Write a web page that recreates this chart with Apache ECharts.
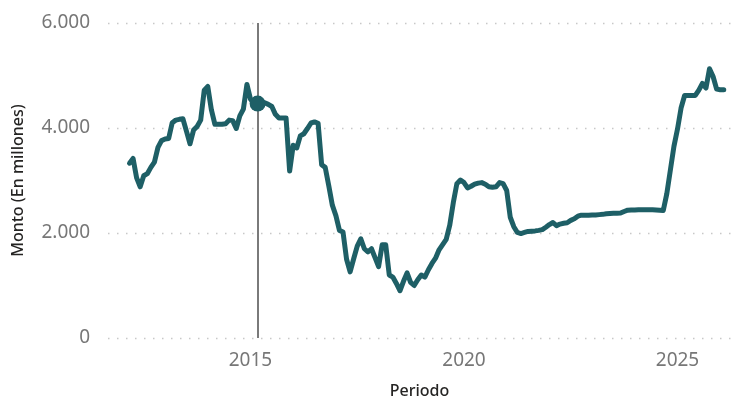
<!DOCTYPE html>
<html>
<head>
<meta charset="utf-8">
<script src="https://cdn.jsdelivr.net/npm/echarts@6/dist/echarts.min.js"></script>
<style>
html,body{margin:0;padding:0;background:#fff;}
#chart{width:733px;height:404px;}
</style>
</head>
<body>
<div id="chart"></div>
<script>
// First month of the series and monthly values (millones)
const startMonth = '2012-03';
const montos = [
  3330, 3420, 3050, 2880, 3090, 3130, 3250, 3350, 3630, 3760,           // 2012-03 .. 2012-12
  3790, 3800, 4100, 4150, 4165, 4175, 3940, 3700, 3960, 4030, 4150, 4720, // 2013
  4790, 4350, 4070, 4070, 4070, 4080, 4150, 4140, 3990, 4230, 4360, 4830, // 2014
  4550, 4470, 4465, 4480, 4480, 4450, 4410, 4260, 4190, 4190, 4190, 3180, // 2015
  3670, 3620, 3850, 3890, 3990, 4095, 4115, 4090, 3300, 3250, 2900, 2530, // 2016
  2330, 2050, 2020, 1500, 1260, 1510, 1750, 1890, 1700, 1640, 1700, 1530, // 2017
  1360, 1775, 1775, 1200, 1160, 1040, 900, 1080, 1240, 1060, 1000, 1110,  // 2018
  1200, 1160, 1300, 1420, 1520, 1680, 1780, 1880, 2150, 2580, 2940, 3010, // 2019
  2960, 2860, 2890, 2930, 2950, 2960, 2930, 2880, 2870, 2880, 2960, 2940, // 2020
  2810, 2300, 2120, 2010, 1990, 2010, 2030, 2035, 2040, 2050, 2065, 2110, // 2021
  2160, 2200, 2140, 2170, 2185, 2195, 2240, 2270, 2320, 2340, 2340, 2340, // 2022
  2345, 2345, 2350, 2355, 2365, 2370, 2375, 2378, 2380, 2410, 2435, 2440, // 2023
  2440, 2443, 2445, 2445, 2445, 2445, 2440, 2435, 2430, 2750, 3200, 3650, // 2024
  3980, 4380, 4620, 4620, 4620, 4620, 4720, 4850, 4760, 5130, 4980, 4740, // 2025
  4730, 4730                                                              // 2026
];
const markerMonth = '2015-03';
const xTickLabels = [2015, 2020, 2025];

function monthToYear(s){
  const p = s.split('-');
  return +p[0] + (+p[1] - 1) / 12;
}
const startYear = monthToYear(startMonth);
const seriesData = montos.map((v, i) => [startYear + i / 12, v]);
const markerX = monthToYear(markerMonth);
const markerIdx = Math.round((markerX - startYear) * 12);
const markerData = [[markerX, montos[markerIdx]]];

const fmt = v => String(v).replace(/\B(?=(\d{3})+(?!\d))/g, '.');
const FONT = "'Segoe UI', 'Noto Sans', sans-serif";
const lineColor = '#1e5f66';

const chart = echarts.init(document.getElementById('chart'), null, {renderer: 'canvas'});
chart.setOption({
  animation: false,
  backgroundColor: '#ffffff',
  grid: {left: 108, right: 2, top: 23, bottom: 61, containLabel: false},
  xAxis: {
    type: 'value',
    min: 2011.663,
    max: 2026.253,
    name: 'Periodo',
    nameLocation: 'middle',
    nameGap: 45,
    nameTextStyle: {color: '#252423', fontSize: 16, fontWeight: 500, fontFamily: FONT},
    axisLine: {show: false},
    axisTick: {show: false},
    splitLine: {show: false},
    axisLabel: {
      customValues: xTickLabels,
      formatter: v => String(v),
      color: '#777777',
      fontSize: 19,
      fontFamily: FONT,
      margin: 13
    }
  },
  yAxis: {
    type: 'value',
    min: 0,
    max: 6000,
    interval: 2000,
    name: 'Monto (En millones)',
    nameLocation: 'middle',
    nameGap: 82,
    nameTextStyle: {color: '#252423', fontSize: 16, fontWeight: 500, fontFamily: FONT},
    axisLine: {show: false},
    axisTick: {show: false},
    axisLabel: {
      formatter: v => fmt(v),
      color: '#777777',
      fontSize: 19,
      fontFamily: FONT,
      margin: 18
    },
    splitLine: {show: true, lineStyle: {color: '#c8c8c8', width: 1.3, type: [1.5, 7.5]}}
  },
  series: [
    {
      type: 'line',
      data: seriesData,
      showSymbol: false,
      lineStyle: {color: lineColor, width: 5, join: 'round', cap: 'round'},
      itemStyle: {color: lineColor},
      z: 3,
      markLine: {
        silent: true,
        symbol: 'none',
        label: {show: false},
        lineStyle: {color: '#7a7a7a', width: 2, type: 'solid'},
        data: [{xAxis: markerX}],
        z: 2
      }
    },
    {
      type: 'scatter',
      data: markerData,
      symbol: 'circle',
      symbolSize: 16,
      itemStyle: {color: lineColor, opacity: 1},
      z: 4
    }
  ]
});
</script>
</body>
</html>
